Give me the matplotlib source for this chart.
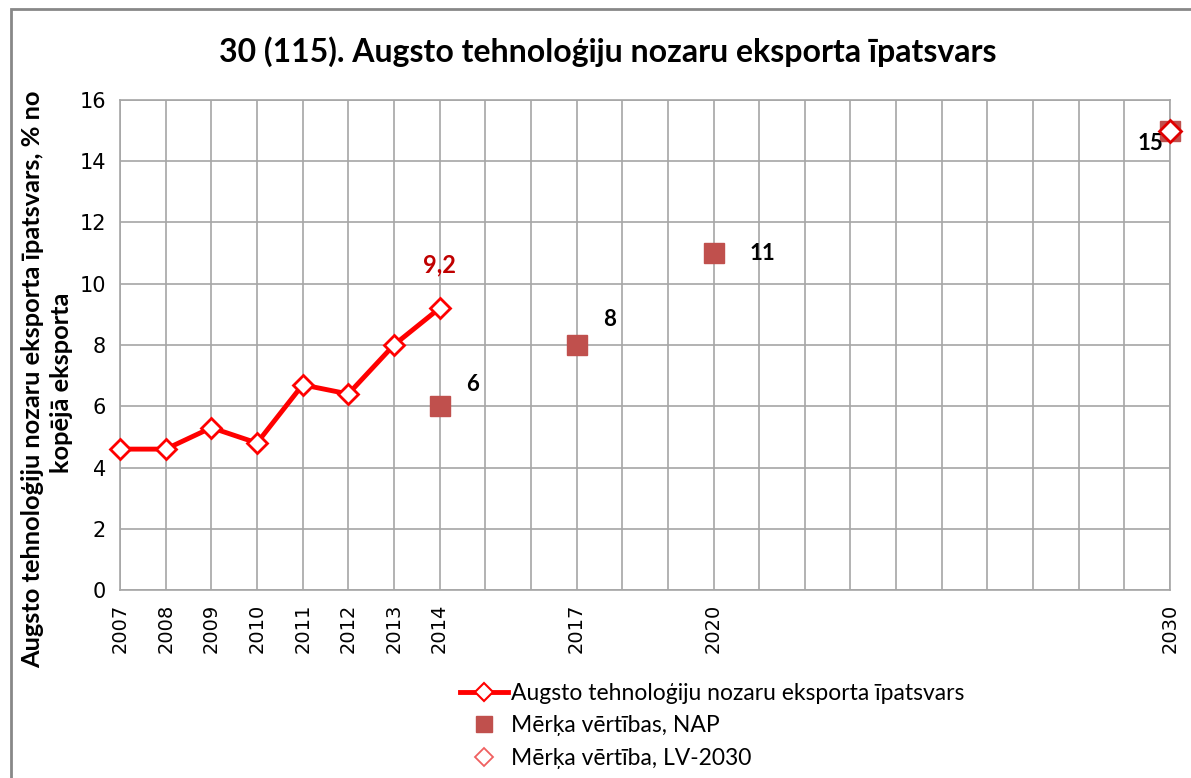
import matplotlib.pyplot as plt
from matplotlib.patches import Rectangle
from matplotlib.lines import Line2D

# data
all_years = list(range(2007, 2031))
shown_years = [2007, 2008, 2009, 2010, 2011, 2012, 2013, 2014, 2017, 2020, 2030]
hist_years = [2007, 2008, 2009, 2010, 2011, 2012, 2013, 2014]
hist_values = [4.6, 4.6, 5.3, 4.8, 6.7, 6.4, 8.0, 9.2]
nap_years = [2014, 2017, 2020, 2030]
nap_values = [6, 8, 11, 15]
lv_years = [2030]
lv_values = [15]

title = "30 (115). Augsto tehnoloģiju nozaru eksporta īpatsvars"
ylabel_lines = ["Augsto tehnoloģiju nozaru eksporta īpatsvars, % no", "kopējā eksporta"]
labels = ["Augsto tehnoloģiju nozaru eksporta īpatsvars",
          "Mērķa vērtības, NAP", "Mērķa vērtība, LV-2030"]

fig = plt.figure(figsize=(11.91, 7.78), dpi=100)
fig.patches.append(Rectangle((0.009, -0.01), 1.0, 0.998, transform=fig.transFigure,
                             fill=False, edgecolor='#888888', linewidth=2))
ax = fig.add_axes([0.1008, 0.2416, 0.8816, 0.63])

pos = {y: i for i, y in enumerate(all_years)}

ax.plot([pos[y] for y in hist_years], hist_values, color='#FF0000', linewidth=3.5,
        marker='D', markersize=10, markerfacecolor='white', markeredgecolor='#FF0000',
        markeredgewidth=2, zorder=4, clip_on=False)
ax.plot([pos[y] for y in nap_years], nap_values, linestyle='none', marker='s', markersize=15,
        color='#C0504D', zorder=3, clip_on=False)
ax.plot([pos[y] for y in lv_years], lv_values, linestyle='none', marker='D', markersize=11,
        markerfacecolor='white', markeredgecolor='#E00000', markeredgewidth=2,
        zorder=5, clip_on=False)

ax.annotate("9,2", (pos[2014], hist_values[-1]), xytext=(0, 23), textcoords='offset points',
            ha='center', va='bottom', color='#C00000', fontsize=17, fontweight='bold',
            family='Lato')
offsets = [(19, 16), (19, 18), (26, 0)]
for (y, v), off in zip(zip(nap_years[:3], nap_values[:3]), offsets):
    ax.annotate(str(v), (pos[y], v), xytext=off, textcoords='offset points',
                ha='left', va='center', fontsize=16, fontweight='bold', family='Lato')
ax.annotate(str(nap_values[-1]), (pos[2030], nap_values[-1]), xytext=(-5, -9),
            textcoords='offset points', ha='right', va='center', fontsize=16,
            fontweight='bold', family='Lato')

ax.set_xlim(0, len(all_years) - 1)
ax.set_ylim(0, 16)
ax.set_yticks(range(0, 17, 2))
ax.set_xticks(range(len(all_years)), minor=True)
ax.set_xticks([pos[y] for y in shown_years])
ax.set_xticklabels([str(y) for y in shown_years], rotation=90, fontsize=14,
                   family='DejaVu Sans')
for t in ax.get_yticklabels():
    t.set_family('DejaVu Sans')
ax.tick_params(axis='y', labelsize=15, length=0, pad=10)
ax.tick_params(axis='x', which='both', length=0, pad=10)
ax.grid(True, which='both', axis='x', color='#A6A6A6', linewidth=1.2)
ax.grid(True, which='major', axis='y', color='#A6A6A6', linewidth=1.2)
ax.set_axisbelow(True)
for s in ax.spines.values():
    s.set_color('#A6A6A6')
    s.set_linewidth(1.2)

# two-line y axis title, placed like the original
fig.text(33 / 1191, 1 - 379 / 778, ylabel_lines[0], rotation=90, ha='center', va='center',
         fontsize=18.3, fontweight='bold', family='Lato')
fig.text(62 / 1191, 1 - 383 / 778, ylabel_lines[1], rotation=90, ha='center', va='center',
         fontsize=18.3, fontweight='bold', family='Lato')

fig.suptitle(title, x=0.51, y=0.954, fontsize=23, fontweight='bold', family='Lato')

handles = [
    Line2D([], [], color='#FF0000', linewidth=3.5, marker='D', markersize=9,
           markerfacecolor='white', markeredgecolor='#FF0000', markeredgewidth=1.5),
    Line2D([], [], linestyle='none', marker='s', markersize=12, color='#C0504D'),
    Line2D([], [], linestyle='none', marker='D', markersize=9, markerfacecolor='white',
           markeredgecolor='#F06060', markeredgewidth=1.3),
]
fig.legend(handles, labels, loc='upper left', bbox_to_anchor=(0.369, 0.149), frameon=False,
           handlelength=2.1, labelspacing=0.5, handletextpad=0.1,
           prop={'family': 'Lato', 'size': 16.5})

fig.savefig("out.png", dpi=100)
